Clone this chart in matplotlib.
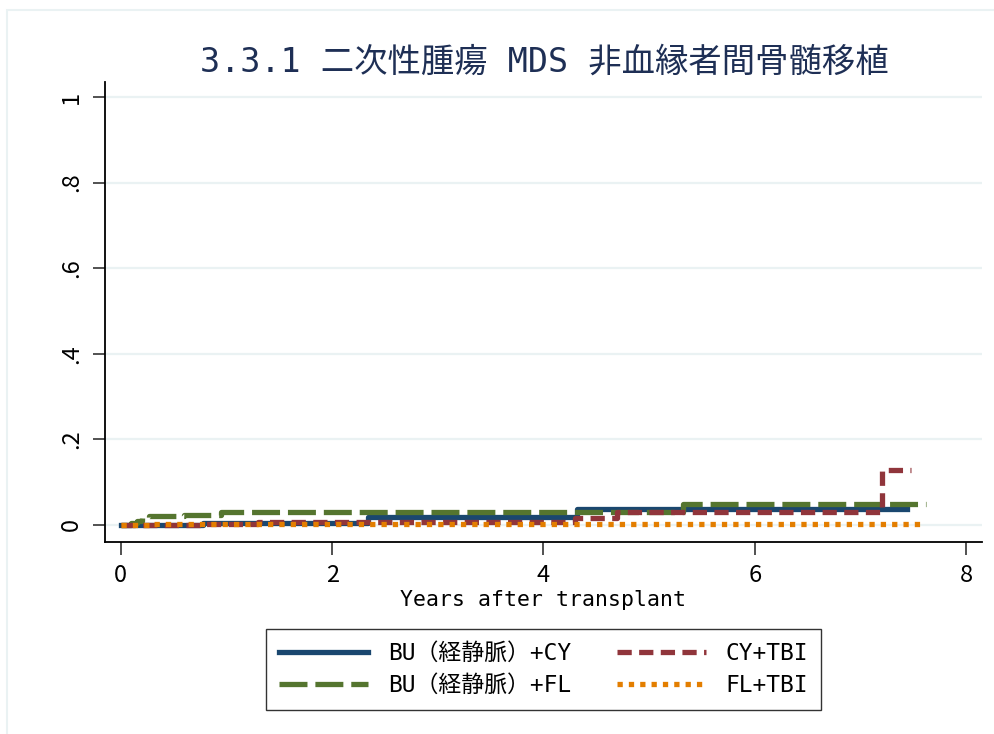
import matplotlib
matplotlib.use("Agg")
import matplotlib.pyplot as plt
from matplotlib.patches import Rectangle

# step curves (years after transplant, cumulative incidence)
bucy_t = [0, 0.78, 2.34, 4.32, 7.44]
bucy_y = [0, 0.005, 0.018, 0.036, 0.036]

bufl_t = [0, 0.10, 0.15, 0.20, 0.27, 0.60, 0.95, 5.32, 7.62]
bufl_y = [0, 0.005, 0.010, 0.016, 0.020, 0.024, 0.029, 0.048, 0.048]

cytbi_t = [0, 0.80, 1.30, 4.30, 4.70, 7.20, 7.48]
cytbi_y = [0, 0.002, 0.006, 0.015, 0.030, 0.128, 0.128]

fltbi_t = [0, 0.30, 7.57]
fltbi_y = [0, 0.003, 0.003]

labels = ["BU\uff08経静脈\uff09+CY", "BU\uff08経静脈\uff09+FL", "CY+TBI", "FL+TBI"]
title = "3.3.1 二次性腫瘍 MDS 非血縁者間骨髄移植"

xticks = [0, 2, 4, 6, 8]
yticks = [0, 0.2, 0.4, 0.6, 0.8, 1.0]
yticklabels = ["0", ".2", ".4", ".6", ".8", "1"]

navy = "#1a476f"
green = "#55752f"
maroon = "#90353b"
orange = "#e37e00"
gridc = "#eaf2f3"

jp = ["Noto Sans CJK JP", "DejaVu Sans"]
mono = ["DejaVu Sans Mono", "Noto Sans CJK JP"]

fig = plt.figure(figsize=(9.95, 7.34), dpi=100)
fig.patches.append(Rectangle((7 / 995, -0.1), 1.2, 0.1 + (734 - 10) / 734,
                             transform=fig.transFigure, fill=False,
                             edgecolor=gridc, lw=1.5))

ax = fig.add_axes([105 / 995, (734 - 542) / 734, (982 - 105) / 995, (542 - 82) / 734])

lw = 3.8
ax.step(bucy_t, bucy_y, where="post", color=navy, lw=lw, label=labels[0])
ax.step(bufl_t, bufl_y, where="post", color=green, lw=lw, label=labels[1],
        dashes=(5.3, 1.5), dash_capstyle="butt")
ax.step(cytbi_t, cytbi_y, where="post", color=maroon, lw=lw, label=labels[2],
        dashes=(2.7, 1.4), dash_capstyle="butt")
ax.step(fltbi_t, fltbi_y, where="post", color=orange, lw=lw, label=labels[3],
        dashes=(1.0, 1.15), dash_capstyle="butt")

ax.set_xlim(-0.15, 8.15)
ax.set_ylim(-0.04, 1.035)
ax.set_xticks(xticks)
ax.set_xticklabels([str(v) for v in xticks], fontsize=17, family=jp)
ax.set_yticks(yticks)
ax.set_yticklabels(yticklabels, fontsize=17, family=jp, rotation=90, va="center")
ax.tick_params(length=9, width=1.2, color="#333333", pad=7)

for v in yticks:
    ax.axhline(v, color=gridc, lw=1.6, zorder=0)

for s in ["top", "right"]:
    ax.spines[s].set_visible(False)
for s in ["left", "bottom"]:
    ax.spines[s].set_linewidth(1.3)

ax.set_xlabel("Years after transplant", fontsize=15.5, family=mono, labelpad=2)
fig.text(0.547, 0.916, title, ha="center", va="center", fontsize=24,
         color="#1e2f55", family=mono)

leg = ax.legend(ncol=2, loc="upper center", bbox_to_anchor=(0.5, -0.165),
                frameon=True, fancybox=False, edgecolor="black",
                prop={"family": mono, "size": 16.5}, handlelength=3.9,
                columnspacing=2.0, handletextpad=0.85, borderpad=0.55,
                labelspacing=0.4)
leg.get_frame().set_linewidth(1.0)

fig.savefig("out.png", dpi=100, facecolor="white")
